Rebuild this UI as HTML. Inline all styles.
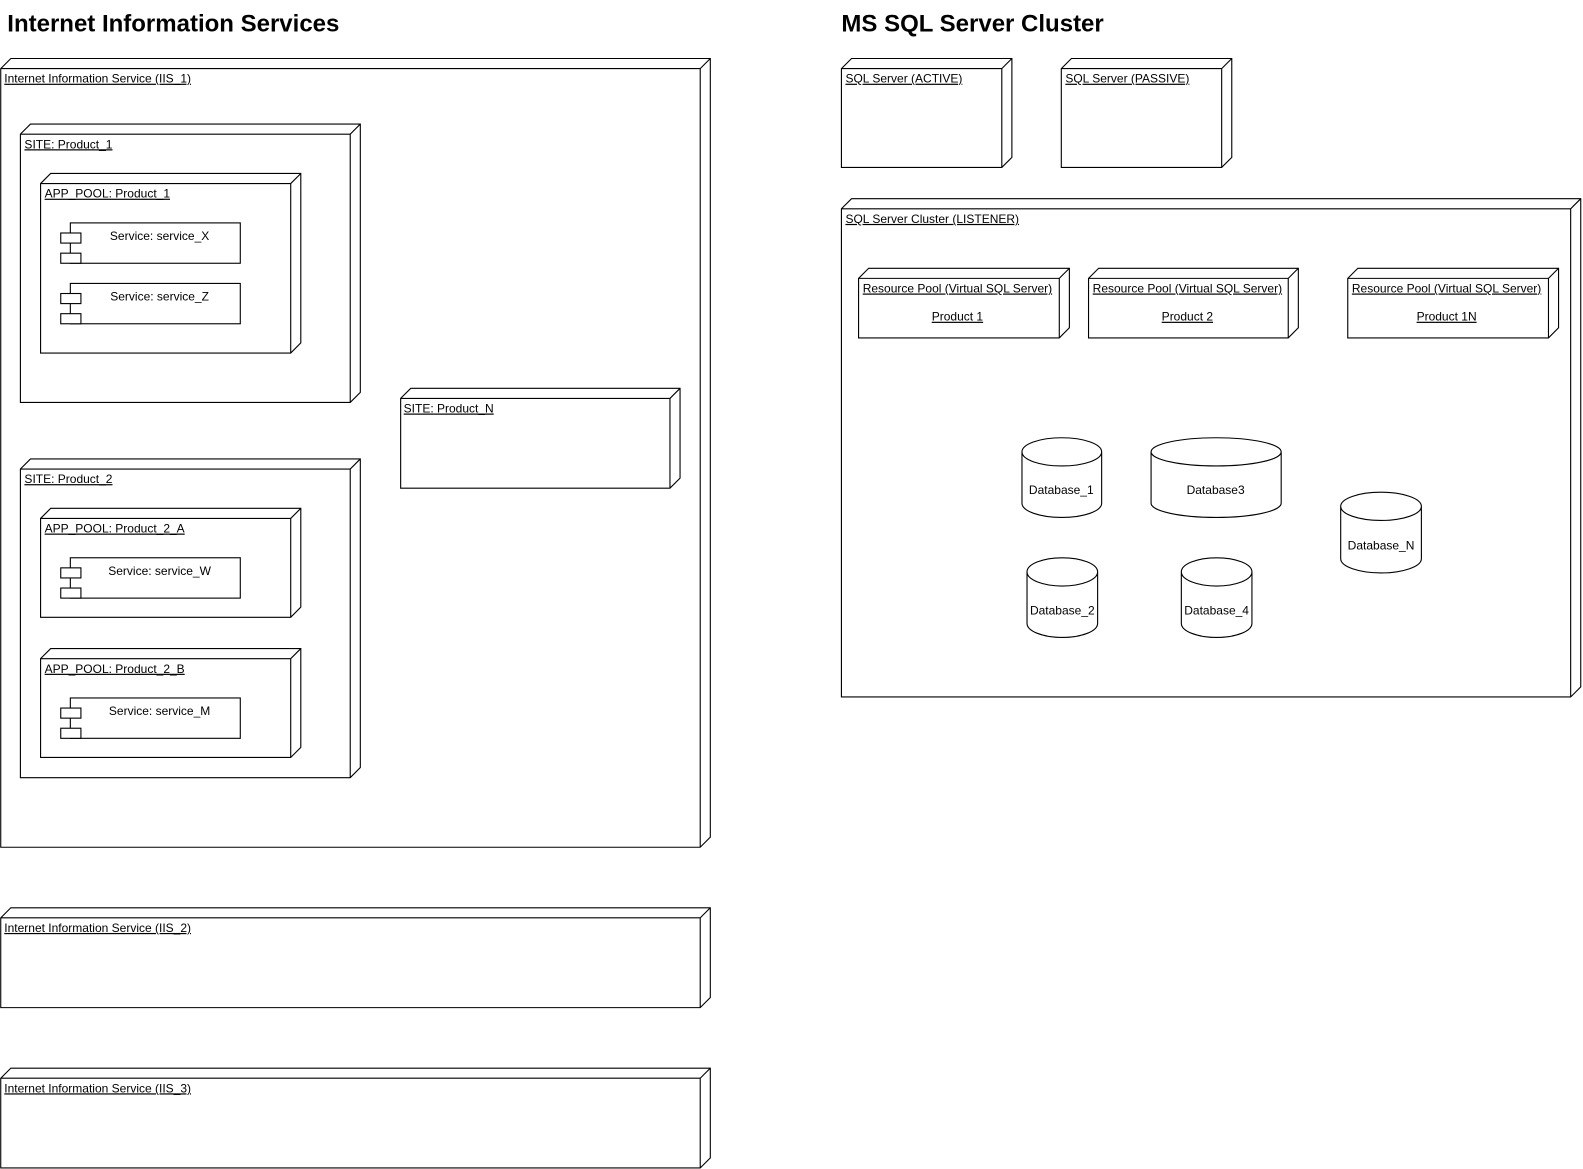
<!DOCTYPE html>
<html><head><meta charset="utf-8"><style>
html,body{margin:0;padding:0;background:#fff;width:1583px;height:1169px;overflow:hidden}
svg{display:block}
text{font-family:"Liberation Sans",Arial,sans-serif;fill:#000}
.l{font-size:11.9px;text-decoration:underline}
.c{font-size:11.9px}
.t{font-size:23.8px;font-weight:bold}
path,rect{fill:none;stroke:#000;stroke-width:1.1}
</style></head><body>
<svg width="1583" height="1169" viewBox="0 0 1569 1159" xmlns="http://www.w3.org/2000/svg">
<text class="t" x="7" y="31">Internet Information Services</text>
<text class="t" x="834" y="31">MS SQL Server Cluster</text>

<!-- IIS_1 -->
<path d="M0.5 68 L10.5 58 L704 58 L704 830 L694 840 L0.5 840 Z M0.5 68 L694 68 L704 58 M694 68 L694 840"/>
<text class="l" x="4" y="82">Internet Information Service (IIS_1)</text>

<path d="M20 133 L30 123 L357 123 L357 389 L347 399 L20 399 Z M20 133 L347 133 L357 123 M347 133 L347 399"/>
<text class="l" x="24" y="147">SITE: Product_1</text>

<path d="M40 182 L50 172 L298 172 L298 340 L288 350 L40 350 Z M40 182 L288 182 L298 172 M288 182 L288 350"/>
<text class="l" x="44" y="196">APP_POOL: Product_1</text>

<rect x="69.5" y="221" width="168.5" height="40"/><rect x="60" y="231" width="20" height="10" style="fill:#fff"/><rect x="60" y="251" width="20" height="10" style="fill:#fff"/>
<text class="c" x="158" y="238" text-anchor="middle">Service: service_X</text>
<rect x="69.5" y="281" width="168.5" height="40"/><rect x="60" y="291" width="20" height="10" style="fill:#fff"/><rect x="60" y="311" width="20" height="10" style="fill:#fff"/>
<text class="c" x="158" y="298" text-anchor="middle">Service: service_Z</text>

<path d="M397 395 L407 385 L674 385 L674 474 L664 484 L397 484 Z M397 395 L664 395 L674 385 M664 395 L664 484"/>
<text class="l" x="400" y="409">SITE: Product_N</text>

<path d="M20 465 L30 455 L357 455 L357 761 L347 771 L20 771 Z M20 465 L347 465 L357 455 M347 465 L347 771"/>
<text class="l" x="24" y="479">SITE: Product_2</text>

<path d="M40 514 L50 504 L298 504 L298 602 L288 612 L40 612 Z M40 514 L288 514 L298 504 M288 514 L288 612"/>
<text class="l" x="44" y="528">APP_POOL: Product_2_A</text>
<rect x="69.5" y="553" width="168.5" height="40"/><rect x="60" y="563" width="20" height="10" style="fill:#fff"/><rect x="60" y="583" width="20" height="10" style="fill:#fff"/>
<text class="c" x="158" y="570" text-anchor="middle">Service: service_W</text>

<path d="M40 653 L50 643 L298 643 L298 741 L288 751 L40 751 Z M40 653 L288 653 L298 643 M288 653 L288 751"/>
<text class="l" x="44" y="667">APP_POOL: Product_2_B</text>
<rect x="69.5" y="692" width="168.5" height="40"/><rect x="60" y="702" width="20" height="10" style="fill:#fff"/><rect x="60" y="722" width="20" height="10" style="fill:#fff"/>
<text class="c" x="158" y="709" text-anchor="middle">Service: service_M</text>

<!-- IIS_2, IIS_3 -->
<path d="M0.5 910 L10.5 900 L704 900 L704 989 L694 999 L0.5 999 Z M0.5 910 L694 910 L704 900 M694 910 L694 999"/>
<text class="l" x="4" y="924">Internet Information Service (IIS_2)</text>
<path d="M0.5 1069 L10.5 1059 L704 1059 L704 1148 L694 1158 L0.5 1158 Z M0.5 1069 L694 1069 L704 1059 M694 1069 L694 1158"/>
<text class="l" x="4" y="1083">Internet Information Service (IIS_3)</text>

<!-- SQL servers -->
<path d="M834 68 L844 58 L1003 58 L1003 156 L993 166 L834 166 Z M834 68 L993 68 L1003 58 M993 68 L993 166"/>
<text class="l" x="838" y="82">SQL Server (ACTIVE)</text>
<path d="M1052 68 L1062 58 L1221 58 L1221 156 L1211 166 L1052 166 Z M1052 68 L1211 68 L1221 58 M1211 68 L1211 166"/>
<text class="l" x="1056" y="82">SQL Server (PASSIVE)</text>

<path d="M834 207 L844 197 L1567 197 L1567 681 L1557 691 L834 691 Z M834 207 L1557 207 L1567 197 M1557 207 L1557 691"/>
<text class="l" x="838" y="221">SQL Server Cluster (LISTENER)</text>

<path d="M851 276 L861 266 L1060 266 L1060 325 L1050 335 L851 335 Z M851 276 L1050 276 L1060 266 M1050 276 L1050 335"/>
<text class="l" x="949" y="290" text-anchor="middle">Resource Pool (Virtual SQL Server)</text>
<text class="l" x="949" y="318" text-anchor="middle">Product 1</text>
<path d="M1079 276 L1089 266 L1287 266 L1287 325 L1277 335 L1079 335 Z M1079 276 L1277 276 L1287 266 M1277 276 L1277 335"/>
<text class="l" x="1177" y="290" text-anchor="middle">Resource Pool (Virtual SQL Server)</text>
<text class="l" x="1177" y="318" text-anchor="middle">Product 2</text>
<path d="M1336 276 L1346 266 L1545 266 L1545 325 L1535 335 L1336 335 Z M1336 276 L1535 276 L1545 266 M1535 276 L1535 335"/>
<text class="l" x="1434" y="290" text-anchor="middle">Resource Pool (Virtual SQL Server)</text>
<text class="l" x="1434" y="318" text-anchor="middle">Product 1N</text>

<!-- Databases -->
<path d="M1013 448 A39.5 14 0 0 1 1092 448 A39.5 14 0 0 1 1013 448 L1013 499 A39.5 14 0 0 0 1092 499 L1092 448"/>
<text class="c" x="1052" y="490" text-anchor="middle">Database_1</text>
<path d="M1141 448 A64.5 14 0 0 1 1270 448 A64.5 14 0 0 1 1141 448 L1141 499 A64.5 14 0 0 0 1270 499 L1270 448"/>
<text class="c" x="1205" y="490" text-anchor="middle">Database3</text>
<path d="M1329 502 A40 14 0 0 1 1409 502 A40 14 0 0 1 1329 502 L1329 554 A40 14 0 0 0 1409 554 L1409 502"/>
<text class="c" x="1369" y="545" text-anchor="middle">Database_N</text>
<path d="M1018 567 A35 14 0 0 1 1088 567 A35 14 0 0 1 1018 567 L1018 618 A35 14 0 0 0 1088 618 L1088 567"/>
<text class="c" x="1053" y="609" text-anchor="middle">Database_2</text>
<path d="M1171 567 A35 14 0 0 1 1241 567 A35 14 0 0 1 1171 567 L1171 618 A35 14 0 0 0 1241 618 L1241 567"/>
<text class="c" x="1206" y="609" text-anchor="middle">Database_4</text>
</svg>
</body></html>
